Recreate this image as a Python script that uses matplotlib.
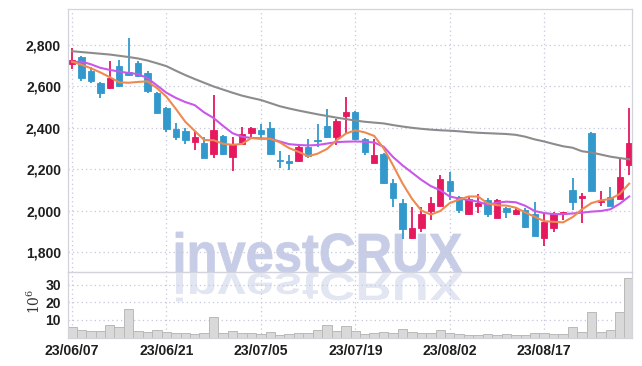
import matplotlib
matplotlib.use('Agg')
import matplotlib.pyplot as plt
from matplotlib import font_manager
from matplotlib.textpath import TextPath
from matplotlib.font_manager import FontProperties
from matplotlib.patches import PathPatch
from matplotlib.transforms import Affine2D

# narrow bold face for the labels, whichever is installed
installed = {f.name for f in font_manager.fontManager.ttflist}
label_font = next((f for f in ['Liberation Sans Narrow', 'Arial Narrow', 'Liberation Sans']
                   if f in installed), 'DejaVu Sans')
narrow = label_font.endswith('Narrow')
plt.rcParams['font.family'] = [label_font, 'DejaVu Sans']
plt.rcParams['mathtext.fontset'] = 'dejavuserif'

# trading days, 2023-06-07 .. 2023-08-30
dates = ['23/06/07', '23/06/08', '23/06/09', '23/06/12', '23/06/13', '23/06/14',
         '23/06/15', '23/06/16', '23/06/19', '23/06/20', '23/06/21', '23/06/22',
         '23/06/23', '23/06/26', '23/06/27', '23/06/28', '23/06/29', '23/06/30',
         '23/07/03', '23/07/04', '23/07/05', '23/07/06', '23/07/07', '23/07/10',
         '23/07/11', '23/07/12', '23/07/13', '23/07/14', '23/07/17', '23/07/18',
         '23/07/19', '23/07/20', '23/07/21', '23/07/24', '23/07/25', '23/07/26',
         '23/07/27', '23/07/28', '23/07/31', '23/08/01', '23/08/02', '23/08/03',
         '23/08/04', '23/08/07', '23/08/08', '23/08/09', '23/08/10', '23/08/11',
         '23/08/14', '23/08/16', '23/08/17', '23/08/18', '23/08/21', '23/08/22',
         '23/08/23', '23/08/24', '23/08/25', '23/08/28', '23/08/29', '23/08/30']

opens = [2710, 2740, 2675, 2615, 2592, 2699, 2668, 2715, 2667, 2570,
         2495, 2394, 2386, 2334, 2329, 2275, 2361, 2262, 2321, 2374,
         2390, 2398, 2243, 2235, 2241, 2307, 2339, 2410, 2358, 2459,
         2479, 2345, 2233, 2275, 2133, 2037, 1868, 1916, 2001, 2026,
         2145, 2066, 1985, 2026, 2053, 1968, 2013, 1985, 2005, 1985,
         1868, 1916, 1985, 2101, 2064, 2374, 2042, 2066, 2058, 2222]
highs = [2785, 2745, 2695, 2623, 2724, 2728, 2832, 2723, 2676, 2572,
         2500, 2425, 2401, 2386, 2358, 2559, 2365, 2355, 2403, 2406,
         2418, 2430, 2291, 2270, 2318, 2345, 2419, 2490, 2442, 2548,
         2482, 2350, 2345, 2280, 2153, 2056, 2018, 2018, 2069, 2173,
         2189, 2070, 2069, 2082, 2061, 2056, 2021, 2021, 2013, 2045,
         1992, 1997, 1997, 2157, 2088, 2379, 2098, 2114, 2249, 2495]
lows = [2685, 2625, 2618, 2546, 2590, 2598, 2650, 2647, 2567, 2470,
        2382, 2342, 2321, 2294, 2255, 2254, 2272, 2194, 2318, 2350,
        2350, 2270, 2209, 2197, 2238, 2257, 2310, 2353, 2318, 2374,
        2343, 2270, 2232, 2132, 2018, 1864, 1866, 1900, 1956, 2024,
        2053, 1989, 1983, 1992, 1973, 1966, 1965, 1982, 1916, 1878,
        1833, 1900, 1955, 2005, 1943, 2096, 2024, 2024, 2056, 2173]
closes = [2730, 2640, 2628, 2567, 2640, 2600, 2656, 2652, 2578, 2474,
          2397, 2358, 2342, 2358, 2257, 2390, 2275, 2323, 2371, 2401,
          2370, 2273, 2239, 2231, 2310, 2265, 2335, 2355, 2434, 2476,
          2345, 2286, 2270, 2133, 2064, 1912, 1916, 1984, 2037, 2153,
          2098, 2005, 2056, 2040, 1985, 2053, 1997, 2005, 1924, 1880,
          1948, 1985, 1990, 2045, 2072, 2098, 2050, 2026, 2162, 2326]
# volume, millions of shares
volumes = [5.7, 4.2, 3.6, 3.6, 7.4, 5.9, 16.0, 3.6, 3.1, 4.2,
           3.1, 2.5, 2.5, 2.0, 2.5, 11.9, 2.5, 3.6, 2.5, 2.5,
           2.0, 3.1, 1.2, 1.8, 2.5, 2.5, 4.2, 7.2, 3.8, 6.6,
           3.5, 2.0, 2.5, 2.9, 2.5, 4.6, 2.9, 2.3, 2.5, 4.2,
           2.5, 1.8, 1.4, 1.2, 1.8, 1.4, 1.8, 1.4, 1.4, 2.5,
           2.5, 2.1, 2.0, 5.7, 3.2, 14.7, 3.2, 4.4, 14.7, 33.7]

ma_short = [2720, 2705, 2688, 2668, 2645, 2620, 2618, 2622, 2625, 2592,
            2551, 2492, 2430, 2386, 2342, 2341, 2324, 2319, 2323, 2352,
            2348, 2348, 2331, 2303, 2285, 2264, 2276, 2299, 2340, 2373,
            2389, 2379, 2362, 2302, 2220, 2133, 2059, 2002, 1983, 2000,
            2038, 2055, 2070, 2070, 2037, 2028, 2026, 2016, 1993, 1972,
            1951, 1948, 1945, 1970, 2008, 2038, 2051, 2058, 2082, 2132]
ma_mid = [2717, 2720, 2707, 2690, 2680, 2672, 2665, 2660, 2640, 2605,
          2570, 2545, 2525, 2510, 2475, 2448, 2410, 2375, 2358, 2352,
          2350, 2348, 2335, 2322, 2318, 2316, 2318, 2325, 2332, 2334,
          2335, 2334, 2330, 2310, 2260, 2220, 2185, 2150, 2120, 2100,
          2070, 2060, 2053, 2045, 2030, 2040, 2045, 2042, 2025, 2000,
          1990, 1985, 1985, 1988, 1992, 1997, 2000, 2008, 2035, 2070]
ma_long = [2770, 2766, 2762, 2758, 2754, 2748, 2742, 2735, 2725, 2712,
           2698, 2676, 2655, 2636, 2618, 2600, 2585, 2570, 2556, 2545,
           2535, 2520, 2505, 2494, 2484, 2475, 2466, 2458, 2450, 2443,
           2436, 2430, 2426, 2422, 2414, 2407, 2401, 2396, 2392, 2389,
           2387, 2384, 2380, 2377, 2375, 2373, 2371, 2367, 2358, 2345,
           2335, 2323, 2312, 2305, 2288, 2282, 2272, 2262, 2255, 2249]

price_ticks = [1800, 2000, 2200, 2400, 2600, 2800]
volume_ticks = [10, 20, 30]
date_ticks = [0, 10, 20, 30, 40, 50]

UP = '#e6195f'
DOWN = '#3399cc'
GRID = '#c5c8dc'
SPINE = '#d2d3dc'
W, H = 642, 366
LABEL_SIZE = 10.7 if narrow else 10.1

fig = plt.figure(figsize=(W / 100, H / 100), dpi=100)
fig.patch.set_facecolor('white')
ax = fig.add_axes([68 / W, 1 - 272 / H, 564 / W, 262.7 / H])
axv = fig.add_axes([68 / W, 1 - 337.5 / H, 564 / W, 65.5 / H], sharex=ax)
for a in (ax, axv):
    a.set_facecolor('none')
    for s in a.spines.values():
        s.set_color(SPINE)
        s.set_linewidth(0.9)
    a.grid(True, ls=(0, (1, 2.5)), color=GRID, lw=0.9)
    a.set_axisbelow(True)
    a.tick_params(length=0, labelsize=LABEL_SIZE, labelcolor='#1e1e1e', pad=5)

# watermark with reflection, behind both panels
fp = FontProperties(family='Liberation Sans', weight='bold')
tp = TextPath((0, 0), 'investCRUX', size=100, prop=fp)
ext = tp.get_extents()
x0, x1 = 176 / W, 462 / W
ytop, ybase, yref = 1 - 232 / H, 1 - 272 / H, 1 - 300 / H
sx = (x1 - x0) / ext.width
tr = Affine2D().translate(-ext.x0, 0).scale(sx, (ytop - ybase) / ext.y1).translate(x0, ybase)
fig.patches.append(PathPatch(tr.transform_path(tp), fc='#c8cde7', ec='#c8cde7', lw=0.6,
                             transform=fig.transFigure, zorder=-5))
tr2 = Affine2D().translate(-ext.x0, 0).scale(sx, -(ybase - yref) / ext.y1).translate(x0, ybase - 0.004)
fig.patches.append(PathPatch(tr2.transform_path(tp), fc='#e2e5f2', ec='none',
                             transform=fig.transFigure, zorder=-5))

xs = list(range(len(dates)))
for i in xs:
    o, h, l, c = opens[i], highs[i], lows[i], closes[i]
    col = UP if c >= o else DOWN
    ax.vlines(i, l, h, color=col, lw=1.3, zorder=2)
    ax.bar(i, max(abs(c - o), 8), bottom=min(o, c), width=0.68, color=col,
           edgecolor=col, lw=0.6, zorder=2)

ax.plot(xs, ma_long, color='#8c8c8c', lw=1.5, zorder=3)
ax.plot(xs, ma_mid, color='#c957ea', lw=1.5, zorder=3)
ax.plot(xs, ma_short, color='#ee8a50', lw=1.5, zorder=3)

axv.bar(xs, volumes, width=1.0, color='#d9d9d9', edgecolor='#b9b9b9', lw=0.7, zorder=2)

ax.set_xlim(-0.42, 59.3)
ax.set_ylim(1706, 2972)
ax.set_yticks(price_ticks)
ax.set_yticklabels([f'{v:,}' for v in price_ticks], fontweight='bold')
ax.tick_params(axis='x', labelbottom=False)

axv.set_ylim(0, 37.3)
axv.set_yticks(volume_ticks)
axv.set_yticklabels([str(v) for v in volume_ticks], fontweight='bold')
axv.set_xticks(date_ticks)
axv.set_xticklabels([dates[i] for i in date_ticks], fontweight='bold')
axv.set_ylabel(r'$10^6$', fontsize=10, color='#333333')
axv.yaxis.set_label_coords(-0.045, 0.55)

fig.savefig('out.png', dpi=100)
